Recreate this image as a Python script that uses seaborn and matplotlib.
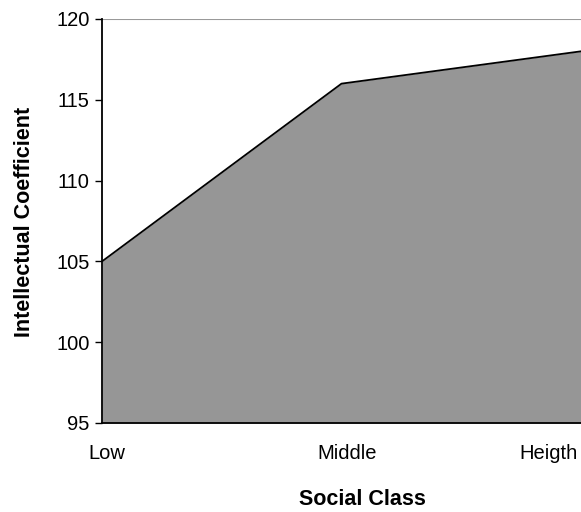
import matplotlib
matplotlib.use("Agg")
import matplotlib.pyplot as plt
import numpy as np
import pandas as pd
import seaborn as sns

categories = ["Low", "Middle", "Heigth"]
iq_values = [105, 116, 118]

sns.set_theme(style="white")
plt.rcParams["font.family"] = ["Liberation Sans", "DejaVu Sans"]
plt.rcParams.update({"text.color": "black", "axes.labelcolor": "black",
                     "xtick.color": "black", "ytick.color": "black"})

df = pd.DataFrame({"pos": np.arange(len(categories)), "iq": iq_values})

fig = plt.figure(figsize=(5.81, 5.12), dpi=100)
ax = fig.add_axes([102 / 581, 1 - 423 / 512, 1 - 102 / 581, (423 - 19) / 512])

ax.fill_between(df["pos"], df["iq"], 95, color="#969696", linewidth=0)
sns.lineplot(data=df, x="pos", y="iq", color="black", linewidth=1.3, ax=ax)

ax.set_xlim(0, 2)
ax.set_ylim(95, 120)
ax.set_yticks([95, 100, 105, 110, 115, 120])

# category labels sit a little right of their points (ticks themselves hidden)
px = 2 / 479
ax.set_xticks([0 + 5 * px, 1 + 6 * px, 2 - 3 * px])
ax.set_xticklabels(categories)
ax.get_xticklabels()[-1].set_ha("right")

ax.axhline(120, color="#999999", linewidth=1.5, zorder=0)

for side in ["top", "right"]:
    ax.spines[side].set_visible(False)
for side in ["left", "bottom"]:
    ax.spines[side].set_color("black")
    ax.spines[side].set_linewidth(1.3)

ax.tick_params(axis="y", which="major", left=True, length=5, width=1, color="black",
               labelsize=14.5, pad=4)
ax.tick_params(axis="x", bottom=False, labelsize=14.5, pad=9)

ax.set_xlabel("Social Class", fontsize=15.5, fontweight="bold")
ax.xaxis.set_label_coords((362 - 102) / 479, (423 - 489) / 404)
ax.set_ylabel("Intellectual Coefficient", fontsize=15.5, fontweight="bold")
ax.yaxis.set_label_coords(-(102 - 35) / 479, (423 - 222) / 404)

fig.savefig("out.png", dpi=100)
